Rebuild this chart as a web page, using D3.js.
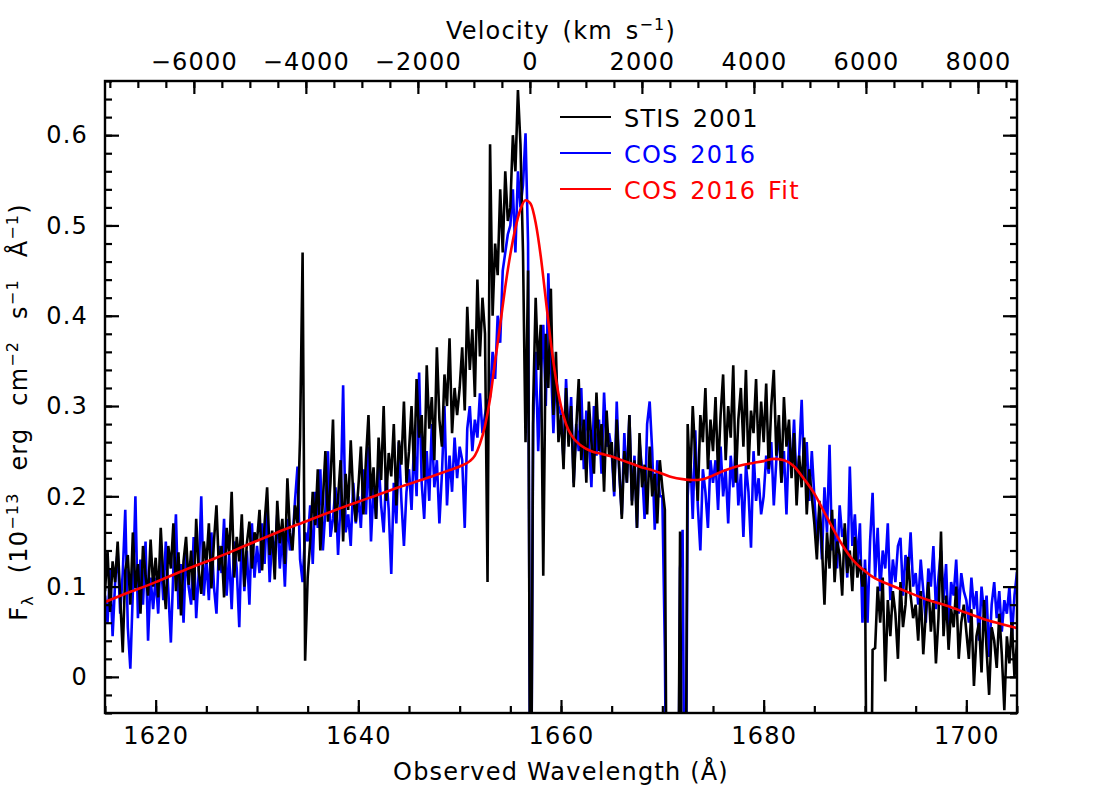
<!DOCTYPE html>
<html><head><meta charset="utf-8">
<script src="https://cdn.jsdelivr.net/npm/d3@7/dist/d3.min.js"></script>
<style>
body{margin:0;background:#fff;}
svg text{font-family:"DejaVu Sans",sans-serif;}
</style></head><body>
<svg id="chart" width="1100" height="799"></svg>
<script>
// ---------------- data ----------------
// spectra sampled on a uniform grid: 1615 Å + 0.25 Å steps (361 samples)
const wavelengthStart = 1615;
const wavelengthStep = 0.25;
// fluxes in units of 1e-16 erg cm^-2 s^-1 Å^-1 (i.e. 1e-3 of the axis unit)
const stisFlux = [
 95,140,72,128,105,150,88,27,118,135,80,160,98,125,70,145,112,90,152,100,
 132,88,165,110,75,145,120,170,95,138,68,128,155,102,140,85,175,118,92,150,
 125,170,98,150,190,118,145,88,165,135,205,110,155,128,180,100,148,172,120,160,
 150,185,118,170,210,135,162,108,195,148,175,125,220,160,140,190,170,265,470,18,
 110,150,205,168,230,140,195,250,172,215,285,160,198,240,150,225,185,262,200,172,
 210,255,180,240,290,200,232,175,265,218,300,195,248,222,280,190,262,235,305,215,
 250,300,228,330,265,290,218,345,275,310,240,365,285,255,335,300,375,270,320,290,
 320,365,295,410,340,385,310,440,355,420,380,105,590,400,480,445,540,470,560,505,
 520,600,560,650,590,470,260,450,-300,300,420,340,390,112,380,320,430,290,360,260,
 290,230,320,255,300,210,275,330,240,285,215,305,260,225,315,250,280,205,295,245,
 260,205,285,230,175,250,215,290,190,240,165,270,210,235,180,255,200,225,170,240,
 210,185,-300,-300,-300,-300,-300,161,-300,-300,280,215,300,245,195,290,260,320,230,285,
 250,310,225,290,335,240,300,265,345,215,285,320,255,340,230,295,270,330,245,305,
 260,325,230,300,340,245,290,215,310,255,285,220,270,190,245,210,265,180,230,200,
 170,130,195,145,80,160,120,185,105,150,135,90,170,115,140,95,155,110,130,100,
 120,-300,-300,30,32,100,60,110,-5,85,45,95,70,20,105,55,80,133,90,65,
 80,40,95,25,70,105,50,85,15,65,161,45,90,30,75,55,100,20,60,80,
 50,20,75,-10,45,60,5,85,30,-20,55,40,10,70,25,-37,45,15,60,0,
 40
];
const cosFlux = [
 90,60,120,45,105,140,70,115,185,55,9,95,200,65,130,80,150,40,110,75,
 110,70,135,85,150,95,38,120,180,75,125,60,140,100,80,155,65,115,200,90,
 130,85,160,100,70,145,115,175,90,135,75,150,120,55,165,95,140,80,170,110,
 145,115,170,125,190,105,155,135,180,120,160,100,175,140,150,195,233,130,105,160,
 150,190,125,205,165,230,140,185,250,155,175,210,135,195,323,160,180,145,215,170,
 200,165,230,180,255,150,210,175,240,190,160,225,185,114,215,170,260,195,145,205,
 230,185,260,200,337,215,175,250,195,280,210,240,170,225,300,190,245,205,265,220,
 255,240,165,275,300,250,285,265,314,270,290,305,310,360,330,400,370,450,470,490,
 500,540,470,560,520,545,602,480,-300,280,360,250,330,390,300,447,350,270,340,300,
 290,240,330,260,310,215,280,250,320,230,295,265,210,300,245,285,225,315,255,270,
 250,200,305,225,180,270,215,290,195,245,165,260,230,175,280,305,250,163,240,200,
 200,30,-300,-300,-300,-300,-300,120,163,-300,200,250,175,273,190,140,230,205,165,240,
 215,240,185,255,200,230,170,245,210,260,190,225,155,235,205,143,250,195,220,180,
 200,245,225,260,190,240,275,215,250,180,265,230,285,210,245,307,220,260,195,250,
 200,150,185,130,210,160,257,140,175,120,190,155,165,110,233,145,180,125,170,60,
 130,60,150,204,110,165,95,140,120,170,85,130,105,145,154,90,135,110,160,100,
 115,80,130,95,60,120,100,145,75,110,140,85,125,48,105,90,130,70,115,95,
 85,60,110,75,95,40,100,70,90,22,80,105,65,95,50,85,70,100,45,90,
 116
];
const fitWavelength = [1615,1617,1620,1623,1626,1629,1632,1635,1638,1641,1644,1647,1649,1650,1651,1651.5,1652,1652.5,1653,1653.5,
 1654,1654.5,1655,1655.5,1656,1656.5,1657,1657.5,1658,1658.5,1659,1659.5,1660,1660.5,1661,1662,1663,1664,1665,1666,
 1667,1668,1669,1670,1671,1672,1673,1674,1675,1676,1677,1678,1679,1680,1681,1682,1683,1684,1685,1686,
 1687,1688,1689,1690,1691,1692,1694,1696,1698,1700,1702,1704,1705];
const fitFlux = [0.083,0.092,0.105,0.119,0.132,0.146,0.160,0.173,0.186,0.198,0.210,0.221,0.229,0.233,0.239,0.245,0.258,0.278,0.308,0.350,
 0.390,0.432,0.468,0.497,0.518,0.528,0.524,0.503,0.466,0.418,0.370,0.330,0.300,0.280,0.268,0.256,0.250,0.247,0.244,0.240,
 0.236,0.232,0.229,0.225,0.221,0.219,0.218,0.219,0.223,0.228,0.232,0.235,0.237,0.239,0.2415,0.240,0.233,0.219,0.203,0.182,
 0.161,0.142,0.127,0.117,0.109,0.104,0.095,0.086,0.079,0.071,0.063,0.057,0.054];

const wavelengthTicks = [1620,1640,1660,1680,1700];
const velocityTicks = [-6000,-4000,-2000,0,2000,4000,6000,8000];
const fluxTicks = [0,0.1,0.2,0.3,0.4,0.5,0.6];
const legendLabels = ["STIS 2001","COS 2016","COS 2016 Fit"];
const legendColors = ["#000000","#0000ff","#ff0000"];
const restWavelength = 1656.93;   // zero velocity
const lightSpeed = 299792.458;    // km/s

// ---------------- layout ----------------
const L = 105, R = 1017, T = 81, B = 713;
const svg = d3.select("#chart");
const x = d3.scaleLinear().domain([1615,1705]).range([L,R]);
const y = d3.scaleLinear().domain([-0.04,0.66]).range([B,T]);
const vel = w => (w/restWavelength - 1)*lightSpeed;
const xv = d3.scaleLinear().domain([vel(1615),vel(1705)]).range([L,R]);

const wavelength = stisFlux.map((_,i) => wavelengthStart + i*wavelengthStep);
const stis = wavelength.map((w,i)=>[w, stisFlux[i]/1000]);
const cos = wavelength.map((w,i)=>[w, cosFlux[i]/1000]);
const fit = fitWavelength.map((w,i)=>[w, fitFlux[i]]);

svg.append("defs").append("clipPath").attr("id","plotclip")
  .append("rect").attr("x",L).attr("y",T).attr("width",R-L).attr("height",B-T);

const line = d3.line().x(d=>x(d[0])).y(d=>y(d[1]));
const gData = svg.append("g").attr("clip-path","url(#plotclip)");
gData.append("path").datum(cos).attr("d",line).attr("fill","none").attr("stroke","#0000ff").attr("stroke-width",2.6);
gData.append("path").datum(stis).attr("d",line).attr("fill","none").attr("stroke","#000").attr("stroke-width",2.6);
gData.append("path").datum(fit).attr("d",line.curve(d3.curveMonotoneX)).attr("fill","none").attr("stroke","#ff0000").attr("stroke-width",2.6);

// ---------------- axes ----------------
const fs = 24, ls = 1.2;
function style(g){
  g.select(".domain").remove();
  g.selectAll(".tick line").attr("stroke","#000").attr("stroke-width",2.2);
  g.selectAll("text").attr("font-size",fs).attr("fill","#000").attr("letter-spacing",ls)
    .attr("font-family","DejaVu Sans, sans-serif");
}
const minorW = d3.range(1615,1706,5);
const minorF = d3.range(-0.04,0.661,0.02).map(v=>Math.round(v*100)/100);
const minorV = d3.range(-7500,8501,500).filter(v=>v>=xv.domain()[0] && v<=xv.domain()[1]);
const fluxFmt = d => d===0 ? "0" : d3.format(".1f")(d);

// bottom
svg.append("g").attr("transform",`translate(0,${B})`)
  .call(d3.axisBottom(x).tickValues(minorW).tickSize(-7).tickFormat("")).call(style);
svg.append("g").attr("transform",`translate(0,${B})`)
  .call(d3.axisBottom(x).tickValues(wavelengthTicks).tickSize(-13).tickPadding(14).tickFormat(d3.format("d"))).call(style);
// top (velocity)
svg.append("g").attr("transform",`translate(0,${T})`)
  .call(d3.axisTop(xv).tickValues(minorV).tickSize(-7).tickFormat("")).call(style);
svg.append("g").attr("transform",`translate(0,${T})`)
  .call(d3.axisTop(xv).tickValues(velocityTicks).tickSize(-13).tickPadding(11).tickFormat(d3.format("d"))).call(style);
// left
svg.append("g").attr("transform",`translate(${L},0)`)
  .call(d3.axisLeft(y).tickValues(minorF).tickSize(-7).tickFormat("")).call(style);
svg.append("g").attr("transform",`translate(${L},0)`)
  .call(d3.axisLeft(y).tickValues(fluxTicks).tickSize(-14).tickPadding(17).tickFormat(fluxFmt)).call(style);
// right
svg.append("g").attr("transform",`translate(${R},0)`)
  .call(d3.axisRight(y).tickValues(minorF).tickSize(-7).tickFormat("")).call(style);
svg.append("g").attr("transform",`translate(${R},0)`)
  .call(d3.axisRight(y).tickValues(fluxTicks).tickSize(-14).tickFormat("")).call(style);

// frame
svg.append("rect").attr("x",L).attr("y",T).attr("width",R-L).attr("height",B-T)
  .attr("fill","none").attr("stroke","#000").attr("stroke-width",2.4);

// ---------------- labels ----------------
svg.append("text").attr("x",(L+R)/2).attr("y",780).attr("text-anchor","middle")
  .attr("font-size",fs).attr("letter-spacing",ls).text("Observed Wavelength (Å)");

const tl = svg.append("text").attr("x",(L+R)/2).attr("y",38.5).attr("text-anchor","middle")
  .attr("font-size",fs).attr("letter-spacing",ls).attr("word-spacing",4);
tl.append("tspan").text("Velocity (km s");
tl.append("tspan").attr("font-size",16).attr("dy",-9).text("−1");
tl.append("tspan").attr("dy",9).text(")");

const yl = svg.append("text").attr("transform","translate(27,412) rotate(-90)").attr("text-anchor","middle")
  .attr("font-size",fs).attr("letter-spacing",ls).attr("word-spacing",13);
yl.append("tspan").text("F");
yl.append("tspan").attr("font-size",16).attr("dy",6).text("λ");
yl.append("tspan").attr("dy",-6).text(" (10");
yl.append("tspan").attr("font-size",16).attr("dy",-9).text("−13");
yl.append("tspan").attr("dy",9).text(" erg cm");
yl.append("tspan").attr("font-size",16).attr("dy",-9).text("−2");
yl.append("tspan").attr("dy",9).text(" s");
yl.append("tspan").attr("font-size",16).attr("dy",-9).text("−1");
yl.append("tspan").attr("dy",9).text(" Å");
yl.append("tspan").attr("font-size",16).attr("dy",-9).text("−1");
yl.append("tspan").attr("dy",9).text(")");

// legend
const lg = svg.append("g");
legendLabels.forEach((lab,i)=>{
  const ly = 117 + i*36;
  lg.append("line").attr("x1",560).attr("x2",611).attr("y1",ly).attr("y2",ly)
    .attr("stroke",legendColors[i]).attr("stroke-width",2.2);
  lg.append("text").attr("x",624).attr("y",ly+9.5).attr("fill",legendColors[i])
    .attr("font-size",fs).attr("letter-spacing",ls).attr("word-spacing",3).text(lab);
});
</script>
</body></html>
